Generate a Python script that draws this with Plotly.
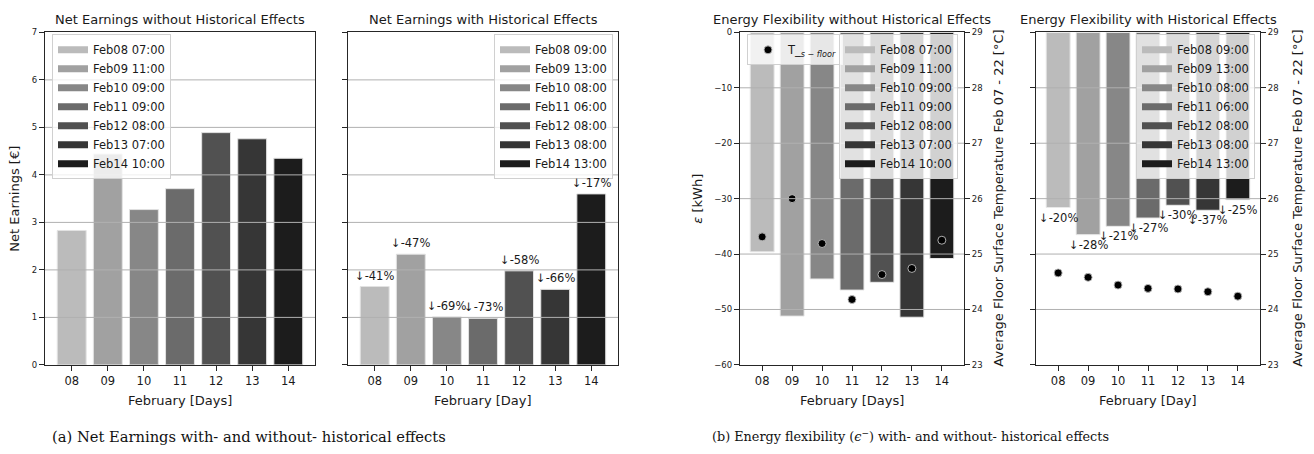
import plotly.graph_objects as go

# ---------------- data ----------------
days = ["08", "09", "10", "11", "12", "13", "14"]
bar_colors = ["#bbbbbb", "#a1a1a1", "#878787", "#6b6b6b", "#515151", "#363636", "#1c1c1c"]

earn_no_hist = [2.83, 4.44, 3.27, 3.71, 4.89, 4.76, 4.35]
earn_hist = [1.65, 2.33, 1.01, 0.98, 1.98, 1.59, 3.60]
earn_hist_pct = ["↓-41%", "↓-47%", "↓-69%", "↓-73%", "↓-58%", "↓-66%", "↓-17%"]

flex_no_hist = [-39.6, -51.2, -44.5, -46.5, -45.1, -51.4, -40.8]
flex_hist = [-31.6, -36.5, -35.0, -33.5, -31.2, -32.1, -30.2]
flex_hist_pct = ["↓-20%", "↓-28%", "↓-21%", "↓-27%", "↓-30%", "↓-37%", "↓-25%"]

temp_no_hist = [25.31, 26.00, 25.19, 24.18, 24.63, 24.74, 25.25]
temp_hist = [24.66, 24.58, 24.44, 24.38, 24.37, 24.32, 24.24]

legend_no_hist = ["Feb08 07:00", "Feb09 11:00", "Feb10 09:00", "Feb11 09:00",
                  "Feb12 08:00", "Feb13 07:00", "Feb14 10:00"]
legend_hist = ["Feb08 09:00", "Feb09 13:00", "Feb10 08:00", "Feb11 06:00",
               "Feb12 08:00", "Feb13 08:00", "Feb14 13:00"]

earn_ticks = [0, 1, 2, 3, 4, 5, 6, 7]
eps_ticks = [-60, -50, -40, -30, -20, -10, 0]
temp_ticks = [23, 24, 25, 26, 27, 28, 29]

titles = ["Net Earnings without Historical Effects", "Net Earnings with Historical Effects",
          "Energy Flexibility without Historical Effects", "Energy Flexibility with Historical Effects"]
xtitles = ["February [Days]", "February [Day]", "February [Days]", "February [Day]"]
temp_title = "Average Floor Surface Temperature Feb 07 - 22 [°C]"
caption_a = "(a) Net Earnings with- and without- historical effects"
caption_b = "(b) Energy flexibility (<i>ϵ</i><sup>−</sup>) with- and without- historical effects"

# ---------------- layout geometry ----------------
W, H = 1314, 454
FONT = "DejaVu Sans"
TXT = "#1a1a1a"
AX = "#262626"
GRID = "#b0b0b0"


def px(x):
    return x / W


def py(y):
    return 1 - y / H


doms = [(45, 315), (348, 618), (740, 964), (1036, 1260)]
ydom = [py(368), py(28)]

fig = go.Figure()

# ---------------- panel 1 & 2 bars ----------------
fig.add_trace(go.Bar(x=days, y=earn_no_hist, marker=dict(color=bar_colors, line=dict(color="#e2e2e2", width=1)),
                     width=0.8, showlegend=False, xaxis="x", yaxis="y"))
fig.add_trace(go.Bar(x=days, y=earn_hist, marker=dict(color=bar_colors, line=dict(color="#e2e2e2", width=1)),
                     width=0.8, showlegend=False, xaxis="x2", yaxis="y2"))

# ---------------- panel 3 & 4 bars + temperature ----------------
fig.add_trace(go.Bar(x=days, y=flex_no_hist, marker=dict(color=bar_colors, line=dict(color="#e8e8e8", width=1)),
                     width=0.8, showlegend=False, xaxis="x3", yaxis="y3"))
fig.add_trace(go.Scatter(x=days, y=temp_no_hist, mode="markers",
                         marker=dict(color="black", size=8, line=dict(color="rgba(190,190,190,0.9)", width=1)),
                         name="T_<sub><i>s − floor</i></sub>", legend="legend4", showlegend=True,
                         xaxis="x3", yaxis="y4"))
fig.add_trace(go.Bar(x=days, y=flex_hist, marker=dict(color=bar_colors, line=dict(color="#e8e8e8", width=1)),
                     width=0.8, showlegend=False, xaxis="x4", yaxis="y5"))
fig.add_trace(go.Scatter(x=days, y=temp_hist, mode="markers",
                         marker=dict(color="black", size=8, line=dict(color="rgba(190,190,190,0.9)", width=1)),
                         showlegend=False, xaxis="x4", yaxis="y6"))

# ---------------- legend entries ----------------
legend_specs = [("legend", legend_no_hist, "x", "y"), ("legend2", legend_hist, "x2", "y2"),
                ("legend3", legend_no_hist, "x3", "y3"), ("legend5", legend_hist, "x4", "y5")]
for lg, labels, xa, ya in legend_specs:
    for lab, col in zip(labels, bar_colors):
        fig.add_trace(go.Scatter(x=[None], y=[None], mode="lines", line=dict(color=col, width=7),
                                 name=lab, legend=lg, showlegend=True, xaxis=xa, yaxis=ya))

# ---------------- percentage annotations (x = category index) ----------------
annotations = []
for i, (v, t) in enumerate(zip(earn_hist, earn_hist_pct)):
    annotations.append(dict(x=i, y=v, xref="x2", yref="y2", text=t, showarrow=False,
                            yanchor="bottom", yshift=2, font=dict(size=11.5, color=TXT, family=FONT)))
for i, (v, t) in enumerate(zip(flex_hist, flex_hist_pct)):
    annotations.append(dict(x=i, y=v, xref="x4", yref="y5", text=t, showarrow=False,
                            yanchor="top", yshift=-1, font=dict(size=11.5, color=TXT, family=FONT)))

# titles and axis titles
for (l, r), t, xt in zip(doms, titles, xtitles):
    annotations.append(dict(x=px((l + r) / 2), y=py(15), xref="paper", yref="paper", text=t, showarrow=False,
                            xanchor="center", yanchor="middle", font=dict(size=13, color=TXT, family=FONT)))
    annotations.append(dict(x=px((l + r) / 2), y=py(404), xref="paper", yref="paper", text=xt, showarrow=False,
                            xanchor="center", yanchor="middle", font=dict(size=13, color=TXT, family=FONT)))

ymid = py(198)
annotations.append(dict(x=px(15), y=ymid, xref="paper", yref="paper", text="Net Earnings [€]", textangle=-90,
                        showarrow=False, xanchor="center", yanchor="middle",
                        font=dict(size=13, color=TXT, family=FONT)))
annotations.append(dict(x=px(698), y=ymid, xref="paper", yref="paper", text="<i>ε</i> [kWh]", textangle=-90,
                        showarrow=False, xanchor="center", yanchor="middle",
                        font=dict(size=13, color=TXT, family=FONT)))
for xc in (999, 1298):
    annotations.append(dict(x=px(xc), y=ymid, xref="paper", yref="paper", text=temp_title, textangle=-90,
                            showarrow=False, xanchor="center", yanchor="middle",
                            font=dict(size=13, color=TXT, family=FONT)))

# captions
annotations.append(dict(x=px(249), y=py(441), xref="paper", yref="paper", text=caption_a, showarrow=False,
                        xanchor="center", yanchor="middle",
                        font=dict(size=14.7, color="#111", family="DejaVu Serif")))
annotations.append(dict(x=px(910), y=py(441), xref="paper", yref="paper", text=caption_b, showarrow=False,
                        xanchor="center", yanchor="middle",
                        font=dict(size=12.8, color="#111", family="DejaVu Serif")))

# ---------------- grid lines above bars ----------------
shapes = []
for xd, yd in (("x", "y"), ("x2", "y2")):
    for v in earn_ticks[1:-1]:
        shapes.append(dict(type="line", xref=xd + " domain", yref=yd, x0=0, x1=1, y0=v, y1=v,
                           line=dict(color=GRID, width=1), layer="above"))
for xd, yd in (("x3", "y3"), ("x4", "y5")):
    for v in eps_ticks[1:-1]:
        shapes.append(dict(type="line", xref=xd + " domain", yref=yd, x0=0, x1=1, y0=v, y1=v,
                           line=dict(color=GRID, width=1), layer="above"))

# ---------------- axes ----------------
xcommon = dict(type="category", range=[-0.74, 6.74], showline=True, mirror=True, linecolor=AX, linewidth=1.3,
               ticks="outside", ticklen=5, tickwidth=1, tickcolor=AX, showgrid=False, zeroline=False,
               tickfont=dict(size=11.5, color=TXT, family=FONT), fixedrange=True)
ycommon = dict(showline=True, linecolor=AX, linewidth=1.3, ticks="outside", ticklen=5, tickwidth=1,
               tickcolor=AX, showgrid=False, zeroline=False,
               tickfont=dict(size=8.5, color=TXT, family=FONT), fixedrange=True)

layout = dict(
    width=W, height=H, margin=dict(l=0, r=0, t=0, b=0),
    paper_bgcolor="white", plot_bgcolor="white",
    font=dict(family=FONT, color=TXT),
    barmode="overlay",
    xaxis=dict(xcommon, domain=[px(doms[0][0]), px(doms[0][1])], anchor="y"),
    xaxis2=dict(xcommon, domain=[px(doms[1][0]), px(doms[1][1])], anchor="y2"),
    xaxis3=dict(xcommon, domain=[px(doms[2][0]), px(doms[2][1])], anchor="y3"),
    xaxis4=dict(xcommon, domain=[px(doms[3][0]), px(doms[3][1])], anchor="y5"),
    yaxis=dict(ycommon, domain=ydom, anchor="x", range=[0, 7], tickvals=earn_ticks, mirror=True),
    yaxis2=dict(ycommon, domain=ydom, anchor="x2", range=[0, 7], tickvals=earn_ticks, mirror=True,
                showticklabels=False),
    yaxis3=dict(ycommon, domain=ydom, anchor="x3", range=[-60, 0], tickvals=eps_ticks),
    yaxis4=dict(ycommon, domain=ydom, anchor="x3", overlaying="y3", side="right", range=[23, 29],
                tickvals=temp_ticks),
    yaxis5=dict(ycommon, domain=ydom, anchor="x4", range=[-60, 0], tickvals=eps_ticks, showticklabels=False),
    yaxis6=dict(ycommon, domain=ydom, anchor="x4", overlaying="y5", side="right", range=[23, 29],
                tickvals=temp_ticks),
    annotations=annotations,
    shapes=shapes,
)

leg_common = dict(bgcolor="rgba(255,255,255,0.8)", bordercolor="#d0d0d0", borderwidth=1,
                  font=dict(size=11.5, color=TXT, family=FONT), itemwidth=30, yanchor="top",
                  tracegroupgap=0, itemclick=False, itemdoubleclick=False)
layout["legend"] = dict(leg_common, x=px(52), y=py(30), xanchor="left")
layout["legend2"] = dict(leg_common, x=px(613), y=py(30), xanchor="right")
layout["legend3"] = dict(leg_common, x=px(958), y=py(30), xanchor="right")
layout["legend4"] = dict(leg_common, x=px(747), y=py(30), xanchor="left")
layout["legend5"] = dict(leg_common, x=px(1255), y=py(30), xanchor="right")

fig.update_layout(**layout)
fig.write_html("out.html")
